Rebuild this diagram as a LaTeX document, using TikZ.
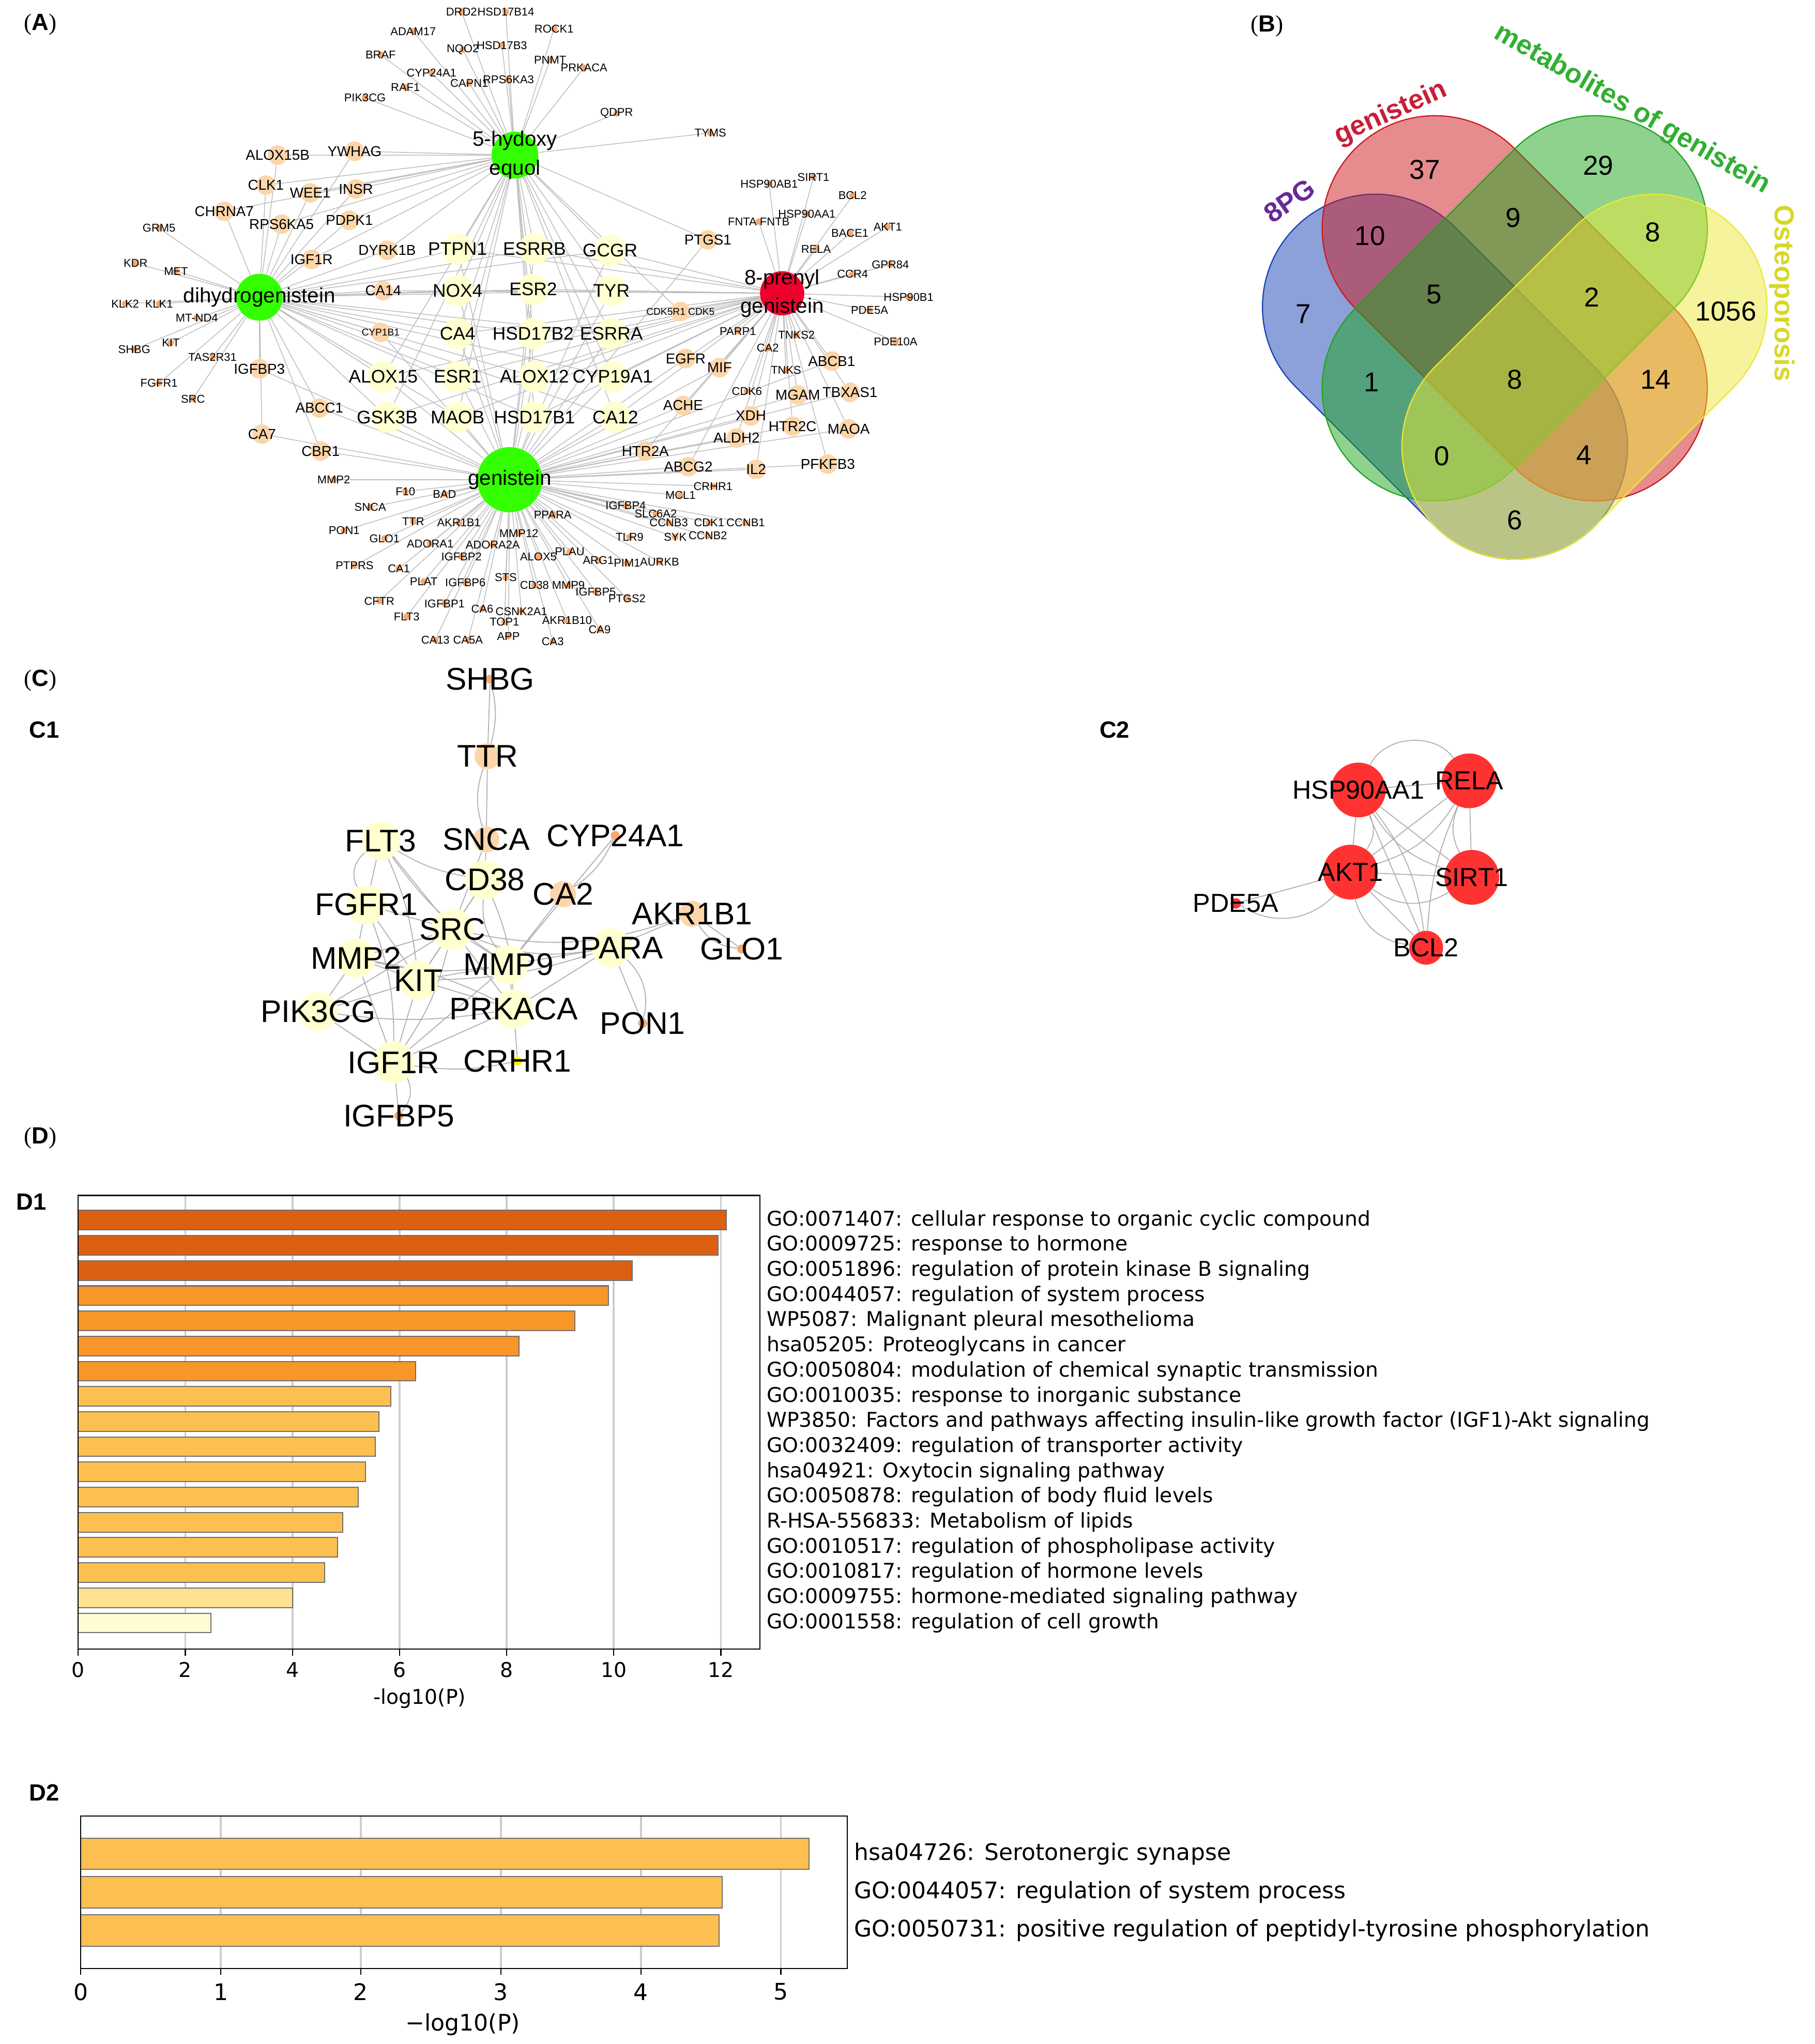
\documentclass[tikz,border=0pt]{standalone}
\usepackage{fontspec}
\setmainfont{Liberation Sans}
\newfontfamily\mplfont{DejaVu Sans}
\newfontfamily\parenfont{Liberation Serif}
\usetikzlibrary{positioning}

\definecolor{hubgreen}{RGB}{51,255,0}
\definecolor{hubred}{RGB}{240,0,45}
\definecolor{tgtyel}{RGB}{255,255,208}
\definecolor{tgtorg}{RGB}{252,214,170}
\definecolor{dotorg}{RGB}{246,168,110}
\definecolor{linkgray}{RGB}{190,190,190}
\definecolor{clinkgray}{RGB}{175,175,175}
\definecolor{c2red}{RGB}{255,50,50}
\definecolor{vblue}{RGB}{25,65,180}
\definecolor{vred}{RGB}{205,25,30}
\definecolor{vgreen}{RGB}{30,165,30}
\definecolor{vyellow}{RGB}{235,232,55}
\definecolor{pgpurple}{RGB}{105,40,150}
\definecolor{txtred}{RGB}{200,30,55}
\definecolor{txtgreen}{RGB}{50,175,50}
\definecolor{txtyellow}{RGB}{215,215,40}
\definecolor{barA}{RGB}{220,96,18}
\definecolor{barB}{RGB}{248,150,40}
\definecolor{barC}{RGB}{253,192,80}
\definecolor{barD}{RGB}{254,226,145}
\definecolor{barE}{RGB}{255,252,212}
\definecolor{bargray}{RGB}{110,110,110}
\definecolor{gridgray}{RGB}{205,205,205}

\newcommand{\fsHub}{\fontsize{16}{22}\selectfont}
\newcommand{\fsYel}{\fontsize{14}{16}\selectfont}
\newcommand{\fsMid}{\fontsize{11}{13}\selectfont}
\newcommand{\fsDot}{\fontsize{8.7}{10}\selectfont}
\newcommand{\fsTiny}{\fontsize{7.6}{9}\selectfont}
\newcommand{\fsNet}{\fontsize{24}{28}\selectfont}
\newcommand{\fsCtwo}{\fontsize{20}{24}\selectfont}
\newcommand{\fsVenn}{\fontsize{21}{25}\selectfont}
\newcommand{\fsNum}{\fontsize{21}{25}\selectfont}
\newcommand{\fsPanel}{\fontsize{18}{22}\selectfont}
\newcommand{\fsBar}{\fontsize{15.6}{18}\selectfont}
\newcommand{\fsBarB}{\fontsize{17.5}{20}\selectfont}
\newcommand{\plab}[1]{{\parenfont(}\textbf{#1}{\parenfont)}}

\pgfdeclarelayer{background}
\pgfsetlayers{background,main}

\tikzset{
  link/.style={draw=linkgray, line width=0.6pt},
  clink/.style={draw=clinkgray, line width=0.7pt},
  hub/.style={circle, inner sep=0pt, minimum size=#1},
  tgtY/.style={circle, fill=tgtyel, inner sep=0pt, minimum size=24pt,
    label={[font=\fsYel, inner sep=0pt]center:#1}},
  tgtO/.style={circle, fill=tgtorg, inner sep=0pt, minimum size=15pt,
    label={[font=\fsMid, inner sep=0pt]center:#1}},
  dotO/.style={circle, fill=dotorg, inner sep=0pt, minimum size=5pt,
    label={[font=\fsDot, inner sep=0pt]center:#1}},
  cnode/.style={circle, inner sep=0pt},
  clab/.style={font=\fsNet, inner sep=0pt},
  redB/.style={circle, fill=c2red, inner sep=0pt, minimum size=#1},
  venn/.style={fill opacity=0.5, line width=0.9pt},
  vnum/.style={font=\fsNum},
  plabel/.style={font=\fsPanel},
  sublabel/.style={font=\fsPanel\bfseries},
  bar/.style={draw=bargray, line width=0.8pt},
  gridln/.style={draw=gridgray, line width=1.5pt},
  barlab/.style={anchor=west, font=\mplfont\fsBar, inner sep=0pt},
  barlabB/.style={anchor=west, font=\mplfont\fsBarB, inner sep=0pt},
}

\begin{document}
\begin{tikzpicture}[x=1pt, y=-1pt]
\useasboundingbox (0,0) rectangle (1392,1568);

% (A) compound-target network
\node[plabel] (labA) at (31,19) {\plab{A}};
\node[hub=36pt, fill=hubgreen, label={[font=\fsHub, align=center]center:5-hydoxy\\equol}] (aE) at (395,119) {};
\node[hub=36pt, fill=hubgreen, label={[font=\fsHub]center:dihydrogenistein}] (aD) at (199,228) {};
\node[hub=34pt, fill=hubred, label={[font=\fsHub, align=center]center:8-prenyl\\genistein}] (aP) at (600,225) {};
\node[hub=50pt, fill=hubgreen, label={[font=\fsHub]center:genistein}] (aG) at (391,368) {};

% shared targets
\foreach \n/\x/\y in {PTPN1/351/191, ESRRB/410/191, GCGR/468/192, NOX4/351/223, ESR2/409/222,
  TYR/469/223, CA4/351/256, HSD17B2/409/256, ESRRA/469/256, ALOX15/294/289, ESR1/351/289,
  ALOX12/410/289, CYP19A1/470/289, GSK3B/297/320, MAOB/351/320, HSD17B1/410/320, CA12/472/320}{
  \node[tgtY=\n] (a\n) at (\x,\y) {};
  \begin{pgfonlayer}{background}
    \foreach \h in {E,D,P,G} \draw[link] (a\h) -- (a\n);
  \end{pgfonlayer}
}

% targets of two compounds
\foreach \n/\x/\y/\h/\k in {ALOX15B/213/119/E/D, YWHAG/272/116/E/D, CLK1/204/142/E/D,
  WEE1/238/148/E/D, INSR/273/145/E/D, CHRNA7/172/162/E/D, RPS6KA5/216/172/E/D,
  PDPK1/268/169/E/D, DYRK1B/297/192/E/D, IGF1R/239/199/E/D, CA14/294/223/D/P,
  IGFBP3/199/283/D/G, ABCC1/245/313/D/G, CA7/201/333/D/G, CBR1/246/346/D/G,
  PTGS1/543/184/E/G, EGFR/526/275/G/P, MIF/552/282/G/P, ABCB1/638/277/G/P,
  ACHE/524/311/G/P, XDH/576/319/G/P, MGAM/612/303/G/P, TBXAS1/652/301/G/P,
  HTR2C/608/327/G/P, MAOA/651/329/G/P, ALDH2/565/336/G/P, HTR2A/495/346/G/P,
  ABCG2/528/358/G/P, IL2/580/360/G/P, PFKFB3/635/356/G/P}{
  \node[tgtO=\n] (a\n) at (\x,\y) {};
  \begin{pgfonlayer}{background}
    \draw[link] (a\h) -- (a\n) -- (a\k);
  \end{pgfonlayer}
}
\node[circle, fill=tgtorg, inner sep=0pt, minimum size=15pt,
  label={[font=\fsTiny, inner sep=0pt]center:CYP1B1}] (aCYP1B1) at (292,255) {};
\node[circle, fill=tgtorg, inner sep=0pt, minimum size=15pt,
  label={[font=\fsTiny, inner sep=0pt]center:CDK5R1 CDK5}] (aCDK5) at (522,239) {};
\node[dotO=MT-ND4] (aMTND4) at (151,244) {};
\node[dotO=FNTA FNTB] (aFNTA) at (582,170) {};
\begin{pgfonlayer}{background}
  \draw[link] (aD) -- (aCYP1B1) -- (aG);
  \draw[link] (aE) -- (aCDK5) -- (aP);
  \draw[link] (aD) -- (aMTND4);
  \draw[link] (aP) -- (aFNTA);
\end{pgfonlayer}

% targets of one compound
\foreach \n/\x/\y/\h in {DRD2/354/9/E, HSD17B14/388/9/E, ADAM17/317/24/E, ROCK1/425/22/E,
  NQO2/355/38/E, HSD17B3/385/35/E, BRAF/292/42/E, PNMT/422/46/E, PRKACA/448/52/E,
  CYP24A1/331/56/E, CAPN1/360/64/E, RPS6KA3/390/61/E, RAF1/311/67/E, PIK3CG/280/75/E,
  QDPR/473/87/E, TYMS/545/102/E,
  GRM5/122/175/D, KDR/104/202/D, MET/135/208/D, KLK2/96/233/D, KLK1/122/233/D,
  SHBG/103/268/D, KIT/131/263/D, TAS2R31/163/274/D, FGFR1/122/294/D, SRC/148/306/D,
  HSP90AB1/590/141/P, SIRT1/624/136/P, BCL2/654/150/P, HSP90AA1/619/164/P,
  BACE1/652/179/P, AKT1/681/174/P, RELA/626/191/P, GPR84/683/203/P, CCR4/654/210/P,
  HSP90B1/697/228/P, PDE5A/667/238/P, PDE10A/687/262/P, PARP1/566/254/P,
  TNKS2/611/257/P, CA2/589/267/P, TNKS/603/284/P, CDK6/573/300/P,
  MMP2/256/368/G, F10/311/377/G, BAD/341/379/G, SNCA/284/389/G, TTR/317/400/G,
  AKR1B1/352/401/G, PON1/264/407/G, GLO1/295/413/G, ADORA1/330/417/G, ADORA2A/378/418/G,
  MMP12/398/409/G, PPARA/424/395/G, IGFBP2/354/427/G, PTPRS/272/434/G, CA1/306/436/G,
  PLAT/325/446/G, IGFBP6/357/447/G, STS/388/443/G, CD38/410/449/G, MMP9/436/449/G,
  ALOX5/413/427/G, PLAU/437/423/G, ARG1/459/430/G, PIM1/481/432/G, AURKB/506/431/G,
  IGFBP5/457/454/G, PTGS2/481/459/G, CFTR/291/461/G, IGFBP1/341/463/G, FLT3/312/473/G,
  CA6/370/467/G, CSNK2A1/400/469/G, TOP1/387/477/G, AKR1B10/435/476/G, APP/390/488/G,
  CA9/460/483/G, CA13/334/491/G, CA5A/359/491/G, CA3/424/492/G, IGFBP4/480/388/G,
  MCL1/522/380/G, CRHR1/547/373/G, SLC6A2/503/394/G, CCNB3/513/401/G, CDK1/544/401/G,
  CCNB1/572/401/G, TLR9/483/412/G, SYK/518/412/G, CCNB2/543/411/G}{
  \node[dotO=\n] (a\n) at (\x,\y) {};
  \begin{pgfonlayer}{background}
    \draw[link] (a\h) -- (a\n);
  \end{pgfonlayer}
}

% (B) Venn diagram
\node[plabel] (labB) at (972,20) {\plab{B}};
\foreach \mx/\my/\len/\r/\c in {1108.5/289/75.7/-45/vblue, 1162/236.5/86.6/-45/vred,
  1162/236.5/86.6/45/vgreen, 1215.5/289/75.7/45/vyellow}
  \draw[venn, draw=\c, fill=\c, rotate around={\r:(\mx,\my)}]
    (\mx-\len,\my-86.5) -- (\mx+\len,\my-86.5) arc[start angle=-90, end angle=90, radius=86.5]
    -- (\mx-\len,\my+86.5) arc[start angle=90, end angle=270, radius=86.5] -- cycle;
\foreach \nm/\x/\y [count=\i] in {37/1093/130, 29/1226/127, 10/1051/181, 9/1161/167, 8/1268/178,
  7/1000/241, 5/1100/226, 2/1221/228, 1056/1324/239, 1/1052/293, 8/1162/291, 14/1270/291,
  0/1106/350, 4/1215/349, 6/1162/399}
  \node[vnum] (bn\i) at (\x,\y) {\nm};
\node[font=\fsVenn\bfseries, text=pgpurple, rotate=35] (bset1) at (989,154) {8PG};
\node[font=\fsVenn\bfseries, text=txtred, rotate=24] (bset2) at (1067,87) {genistein};
\node[font=\fsVenn\bfseries, text=txtgreen, rotate=-30] (bset3) at (1252,84) {metabolites of genistein};
\node[font=\fsVenn\bfseries, text=txtyellow, rotate=-90] (bset4) at (1367,225) {Osteoporosis};

% (C) MCODE clusters
\node[plabel] (labC) at (31,522) {\plab{C}};
\node[sublabel] (labC1) at (34,560) {C1};
\node[sublabel] (labC2) at (855,560) {C2};
\foreach \n/\x/\y/\f/\s in {FLT3/292/645/tgtyel/30pt, CD38/372/675/tgtyel/30pt,
  FGFR1/281/694/tgtyel/30pt, SRC/347/713/tgtyel/32pt, PPARA/469/727/tgtyel/30pt,
  MMP2/273/735/tgtyel/30pt, MMP9/390/740/tgtyel/30pt, KIT/321/752/tgtyel/30pt,
  PIK3CG/244/776/tgtyel/30pt, PRKACA/394/774/tgtyel/30pt, IGF1R/302/815/tgtyel/32pt,
  TTR/374/580/tgtorg/20pt, SNCA/373/644/tgtorg/20pt, CA2/432/686/tgtorg/20pt,
  AKR1B1/531/701/tgtorg/20pt, SHBG/376/521/dotorg/7pt, CYP24A1/472/641/dotorg/7pt,
  GLO1/569/728/dotorg/7pt, PON1/493/785/dotorg/7pt, CRHR1/397/814/yellow/7pt,
  IGFBP5/306/856/dotorg/7pt}
  \node[cnode, fill=\f, minimum size=\s] (c\n) at (\x,\y) {};
\begin{pgfonlayer}{background}
\foreach \u/\v/\b in {SHBG/TTR/0, SHBG/TTR/14, TTR/SNCA/0, TTR/SNCA/-18, SNCA/CD38/0,
  SNCA/SRC/0, FLT3/FGFR1/0, FLT3/FGFR1/-40, FLT3/CD38/-10, FLT3/SRC/0, FLT3/KIT/8,
  FLT3/MMP9/-10, CD38/SRC/0, CD38/KIT/0, CD38/MMP9/-20, CD38/PRKACA/10,
  CYP24A1/CA2/15, CYP24A1/MMP9/0, CA2/MMP9/0, FGFR1/SRC/0, FGFR1/MMP2/0, FGFR1/KIT/0,
  FGFR1/IGF1R/10, SRC/MMP2/0, SRC/KIT/0, SRC/MMP9/0, SRC/PPARA/-15, SRC/AKR1B1/-15,
  SRC/PIK3CG/0, SRC/PRKACA/0, SRC/IGF1R/10, MMP2/KIT/0, MMP2/MMP9/-10, MMP2/PIK3CG/0,
  MMP2/IGF1R/0, MMP2/PRKACA/8, KIT/PIK3CG/0, KIT/IGF1R/0, KIT/MMP9/0, KIT/PRKACA/0,
  KIT/PPARA/-8, MMP9/PRKACA/0, MMP9/PPARA/0, MMP9/IGF1R/0, PPARA/AKR1B1/0,
  PPARA/PON1/0, PPARA/PON1/30, PPARA/PRKACA/0, AKR1B1/GLO1/0, AKR1B1/GLO1/-25,
  PRKACA/IGF1R/0, PRKACA/CRHR1/0, IGF1R/CRHR1/-10, IGF1R/IGFBP5/0, IGF1R/IGFBP5/35,
  PIK3CG/IGF1R/0, PIK3CG/PRKACA/-8}
  \draw[clink] (c\u) to[bend left=\b] (c\v);
\end{pgfonlayer}
\foreach \n in {FLT3, CD38, FGFR1, SRC, PPARA, MMP2, MMP9, KIT, PIK3CG, PRKACA, IGF1R,
  TTR, SNCA, CA2, AKR1B1, SHBG, CYP24A1, GLO1, PON1, CRHR1, IGFBP5}
  \node[clab] (ct\n) at (c\n) {\n};

% C2
\foreach \n/\x/\y/\s in {HSP90AA1/1042/606/42pt, RELA/1127/599/42pt, AKT1/1036/669/42pt,
  SIRT1/1129/673/42pt, BCL2/1094/727/26pt, PDE5A/948/693/8pt}
  \node[redB=\s] (k\n) at (\x,\y) {};
\begin{pgfonlayer}{background}
\foreach \u/\v/\b in {HSP90AA1/RELA/0, HSP90AA1/RELA/60, HSP90AA1/AKT1/0, HSP90AA1/AKT1/30,
  HSP90AA1/SIRT1/0, HSP90AA1/SIRT1/-20, HSP90AA1/BCL2/0, HSP90AA1/BCL2/15,
  RELA/AKT1/0, RELA/AKT1/20, RELA/SIRT1/0, RELA/SIRT1/-25, RELA/BCL2/-10,
  AKT1/SIRT1/0, AKT1/SIRT1/-35, AKT1/BCL2/0, AKT1/BCL2/-35, AKT1/PDE5A/0, AKT1/PDE5A/40}
  \draw[clink] (k\u) to[bend left=\b] (k\v);
\end{pgfonlayer}
\foreach \n in {HSP90AA1, RELA, AKT1, SIRT1, BCL2, PDE5A}
  \node[font=\fsCtwo, inner sep=0pt] (kt\n) at (k\n) {\n};

% (D) enrichment bar charts
\node[plabel] (labD) at (31,873) {\plab{D}};
\node[sublabel] (labD1) at (24,922) {D1};
\node[sublabel] (labD2) at (34,1375) {D2};

% D1
\foreach \k in {2,4,...,12}
  \draw[gridln] ({60+\k*41.08},917) -- ({60+\k*41.08},1265);
\foreach \v/\c/\lab [count=\i] in {
  12.10/barA/{GO:0071407: cellular response to organic cyclic compound},
  11.95/barA/{GO:0009725: response to hormone},
  10.35/barA/{GO:0051896: regulation of protein kinase B signaling},
  9.90/barB/{GO:0044057: regulation of system process},
  9.27/barB/{WP5087: Malignant pleural mesothelioma},
  8.23/barB/{hsa05205: Proteoglycans in cancer},
  6.30/barB/{GO:0050804: modulation of chemical synaptic transmission},
  5.84/barC/{GO:0010035: response to inorganic substance},
  5.62/barC/{WP3850: Factors and pathways affecting insulin-like growth factor (IGF1)-Akt signaling},
  5.55/barC/{GO:0032409: regulation of transporter activity},
  5.36/barC/{hsa04921: Oxytocin signaling pathway},
  5.23/barC/{GO:0050878: regulation of body fluid levels},
  4.94/barC/{R-HSA-556833: Metabolism of lipids},
  4.84/barC/{GO:0010517: regulation of phospholipase activity},
  4.60/barC/{GO:0010817: regulation of hormone levels},
  4.00/barD/{GO:0009755: hormone-mediated signaling pathway},
  2.48/barE/{GO:0001558: regulation of cell growth}}{
  \pgfmathsetmacro{\yy}{936+(\i-1)*19.31}
  \draw[bar, fill=\c] (60,\yy-7.5) rectangle ({60+\v*41.08},\yy+7.5);
  \node[barlab] (dA\i) at (588,\yy) {\lab};
}
\draw[line width=0.9pt] (60,917) rectangle (583,1265);
\foreach \k in {0,2,...,12}{
  \draw[line width=0.9pt] ({60+\k*41.08},1265) -- ++(0,5);
  \node[font=\mplfont\fsBar] (dAx\k) at ({60+\k*41.08},1281) {\k};
}
\node[font=\mplfont\fsBar] (dAxl) at (322,1303) {-log10(P)};

% D2
\foreach \k in {1,...,5}
  \draw[gridln] ({62+\k*107.4},1393) -- ({62+\k*107.4},1510);
\foreach \v/\lab [count=\i] in {
  5.20/{hsa04726: Serotonergic synapse},
  4.58/{GO:0044057: regulation of system process},
  4.56/{GO:0050731: positive regulation of peptidyl-tyrosine phosphorylation}}{
  \pgfmathsetmacro{\yy}{1422+(\i-1)*29.5}
  \draw[bar, fill=barC] (62,\yy-12) rectangle ({62+\v*107.4},\yy+12);
  \node[barlabB] (dB\i) at (655,\yy) {\lab};
}
\draw[line width=0.9pt] (62,1393) rectangle (650,1510);
\foreach \k in {0,...,5}{
  \draw[line width=0.9pt] ({62+\k*107.4},1510) -- ++(0,5);
  \node[font=\mplfont\fsBarB] (dBx\k) at ({62+\k*107.4},1528) {\k};
}
\node[font=\mplfont\fsBarB] (dBxl) at (355,1553) {−log10(P)};
\end{tikzpicture}
\end{document}
